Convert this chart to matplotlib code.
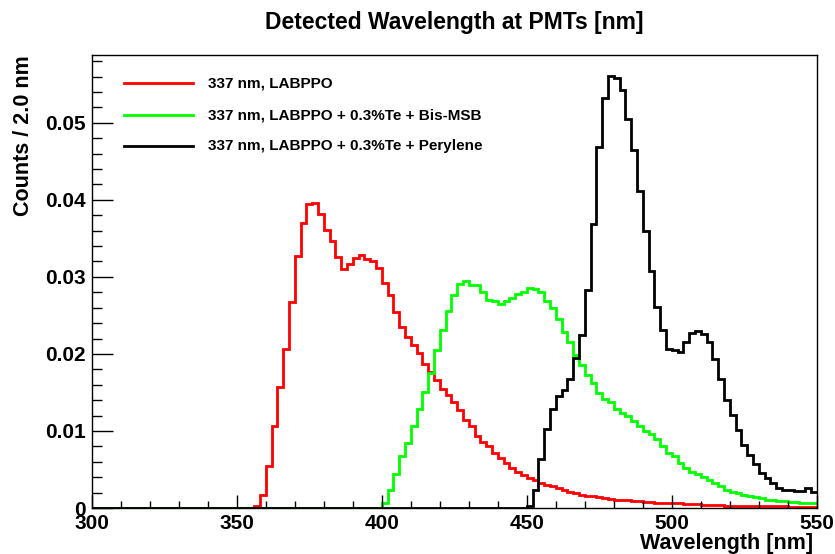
import numpy as np
import matplotlib
matplotlib.use("Agg")
import matplotlib.pyplot as plt
from matplotlib.ticker import MultipleLocator, FuncFormatter

plt.rcParams["font.family"] = ["Liberation Sans", "DejaVu Sans"]
plt.rcParams["font.weight"] = "bold"

# Histogram binning: 2 nm bins from 300 to 550 nm
bin_lo, bin_hi, bin_w = 300, 550, 2

labels = [
    "337 nm, LABPPO",
    "337 nm, LABPPO + 0.3%Te + Bis-MSB",
    "337 nm, LABPPO + 0.3%Te + Perylene",
]
colors = ["#ff0000", "#00ff00", "#000000"]

# LAB + PPO (first non-empty bin starts at 356 nm)
labppo_start = 356
labppo = [
    0.0002, 0.0017, 0.0055, 0.0106, 0.0157, 0.0206, 0.0267, 0.0327, 0.0370, 0.0395,
    0.0396, 0.0381, 0.0361, 0.0347, 0.0326, 0.0310, 0.0317, 0.0325, 0.0328, 0.0323,
    0.0321, 0.0311, 0.0292, 0.0276, 0.0254, 0.0235, 0.0222, 0.0212, 0.0201, 0.0187,
    0.0176, 0.0166, 0.0155, 0.0147, 0.0138, 0.0127, 0.0114, 0.0106, 0.0094, 0.0086,
    0.0080, 0.0072, 0.0065, 0.0059, 0.0052, 0.0047, 0.0043, 0.0039, 0.0036, 0.0033,
    0.0030, 0.0028, 0.0026, 0.0023, 0.0021, 0.0019, 0.0017, 0.0016, 0.0015, 0.0014,
    0.0013, 0.0012, 0.0011, 0.0010, 0.0010, 0.0009, 0.0009, 0.0008, 0.0008, 0.0007,
    0.0007, 0.0006, 0.0006, 0.0006, 0.0005, 0.0005, 0.0005, 0.0004, 0.0004, 0.0004,
    0.0004, 0.0003, 0.0003, 0.0003, 0.0003, 0.0003, 0.0002, 0.0002, 0.0002, 0.0002,
    0.0002, 0.0002, 0.0001, 0.0001, 0.0001, 0.0001, 0.0001,
]

# LAB + PPO + 0.3% Te + Bis-MSB (first non-empty bin starts at 400 nm)
bismsb_start = 400
bismsb = [
    0.0006, 0.0023, 0.0044, 0.0067, 0.0085, 0.0106, 0.0128, 0.0150, 0.0175, 0.0205,
    0.0231, 0.0256, 0.0277, 0.0291, 0.0295, 0.0290, 0.0290, 0.0280, 0.0270, 0.0269,
    0.0265, 0.0269, 0.0273, 0.0278, 0.0281, 0.0285, 0.0284, 0.0280, 0.0269, 0.0259,
    0.0245, 0.0229, 0.0215, 0.0199, 0.0185, 0.0173, 0.0162, 0.0149, 0.0142, 0.0137,
    0.0128, 0.0123, 0.0119, 0.0113, 0.0106, 0.0100, 0.0096, 0.0089, 0.0080, 0.0072,
    0.0067, 0.0058, 0.0052, 0.0047, 0.0044, 0.0040, 0.0036, 0.0033, 0.0029, 0.0024,
    0.0021, 0.0019, 0.0017, 0.0016, 0.0014, 0.0013, 0.0011, 0.0010, 0.0009, 0.0009,
    0.0008, 0.0008, 0.0007, 0.0007, 0.0006,
]

# LAB + PPO + 0.3% Te + Perylene (first non-empty bin starts at 450 nm)
perylene_start = 450
perylene = [
    0.0003, 0.0024, 0.0063, 0.0103, 0.0129, 0.0145, 0.0153, 0.0168, 0.0195, 0.0224,
    0.0283, 0.0368, 0.0468, 0.0532, 0.0561, 0.0558, 0.0542, 0.0505, 0.0465, 0.0411,
    0.0360, 0.0308, 0.0261, 0.0231, 0.0206, 0.0205, 0.0203, 0.0215, 0.0227, 0.0230,
    0.0226, 0.0215, 0.0194, 0.0168, 0.0140, 0.0121, 0.0101, 0.0082, 0.0069, 0.0057,
    0.0046, 0.0039, 0.0033, 0.0026, 0.0024, 0.0024, 0.0022, 0.0022, 0.0026, 0.0021,
]

edges = np.arange(bin_lo, bin_hi + bin_w, bin_w)
nbins = len(edges) - 1


def fill_bins(start, vals):
    h = np.zeros(nbins)
    i0 = (start - bin_lo) // bin_w
    h[i0:i0 + len(vals)] = vals
    return h


hists = [
    fill_bins(labppo_start, labppo),
    fill_bins(bismsb_start, bismsb),
    fill_bins(perylene_start, perylene),
]

W, H = 835, 554
fig = plt.figure(figsize=(W / 100, H / 100), dpi=100)
x0, x1, y0, y1 = 91.7, 816.7, 55, 508
ax = fig.add_axes([x0 / W, (H - y1) / H, (x1 - x0) / W, (y1 - y0) / H])

for h, c in zip(hists, colors):
    ax.stairs(h, edges, color=c, linewidth=2.0, baseline=None)

ax.set_xlim(bin_lo, bin_hi)
ax.set_ylim(0, 0.0588)

ax.xaxis.set_major_locator(MultipleLocator(50))
ax.xaxis.set_minor_locator(MultipleLocator(10))
ax.yaxis.set_major_locator(MultipleLocator(0.01))
ax.yaxis.set_minor_locator(MultipleLocator(0.002))
ax.yaxis.set_major_formatter(FuncFormatter(lambda v, p: "0" if abs(v) < 1e-9 else f"{v:.2f}"))
ax.xaxis.set_major_formatter(FuncFormatter(lambda v, p: f"{v:.0f}"))

ax.tick_params(axis="both", which="both", direction="in", top=False, right=False,
               width=1.0, labelsize=15, pad=4)
ax.tick_params(axis="y", which="major", length=15)
ax.tick_params(axis="y", which="minor", length=7.5)
ax.tick_params(axis="x", which="major", length=9.5)
ax.tick_params(axis="x", which="minor", length=5)
for lab in ax.get_xticklabels() + ax.get_yticklabels():
    lab.set_fontweight("bold")
for s in ax.spines.values():
    s.set_linewidth(1.0)

ax.set_xlabel("Wavelength [nm]", fontsize=15.5, fontweight="bold", loc="right")
ax.xaxis.set_label_coords((813 - x0) / (x1 - x0), -(543.5 - y1) / (y1 - y0))
ax.xaxis.label.set_va("center")
ax.set_ylabel("Counts / 2.0 nm", fontsize=15.5, fontweight="bold", loc="top", labelpad=8)

fig.text((x0 + x1) / 2 / W, 1 - 22 / H, "Detected Wavelength at PMTs [nm]",
         ha="center", va="center", fontsize=16.5, fontweight="bold")

# Legend drawn without a frame, samples on the left
leg_y = [83, 115, 146]
for lab, c, yp in zip(labels, colors, leg_y):
    fy = (y1 - yp) / (y1 - y0)
    ax.plot([(124 - x0) / (x1 - x0), (193 - x0) / (x1 - x0)], [fy, fy],
            color=c, linewidth=2.0, transform=ax.transAxes, clip_on=False)
    ax.text((208 - x0) / (x1 - x0), fy, lab, transform=ax.transAxes,
            ha="left", va="center", fontsize=11, fontweight="bold")

fig.savefig("out.png", dpi=100)
